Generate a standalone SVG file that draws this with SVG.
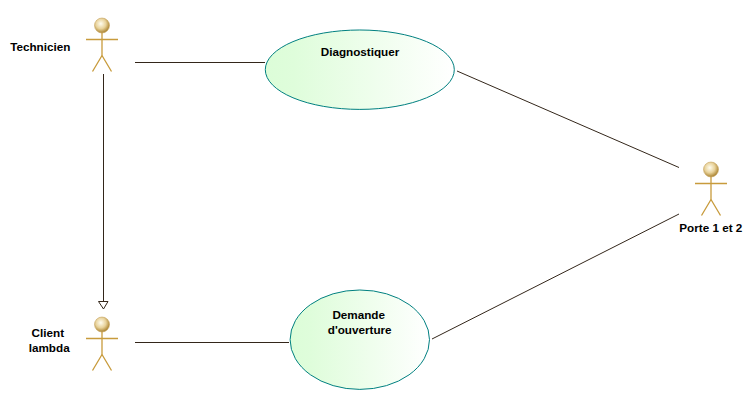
<svg xmlns="http://www.w3.org/2000/svg" width="754" height="401" viewBox="0 0 754 401">
<style>
text{font-family:"Liberation Sans",Arial,sans-serif;font-size:11.7px;font-weight:bold;fill:#000;text-anchor:middle}
.uc{stroke:#008080;stroke-width:1;fill:url(#ug)}
.a{stroke:#c89b3c;stroke-width:1.3;fill:none}
.h{fill:url(#hg);stroke:#c8a560;stroke-width:.6}
.c{stroke:#33261a;stroke-width:1;fill:none}
</style>
<defs>
<linearGradient id="ug" x1="0" y1="0" x2="1" y2="0"><stop offset="0" stop-color="#dcfdd8"/><stop offset=".15" stop-color="#dffddb"/><stop offset="1" stop-color="#ffffff"/></linearGradient>
<radialGradient id="hg" cx=".42" cy=".38" r=".62"><stop offset="0" stop-color="#fffdf0"/><stop offset=".55" stop-color="#e8d29a"/><stop offset="1" stop-color="#a9822f"/></radialGradient>
<symbol id="actor" overflow="visible"><circle class="h" cx="0" cy="0" r="7.5"/><path class="a" d="M0 7.500V30M-16 14H16M0 30L-9.500 46M0 30L9.500 46"/></symbol>
</defs>
<g id="connectors">
<path class="c" d="M135 62.500H265"/>
<path class="c" d="M457 71L679 167.500"/>
<path class="c" d="M135 342.500H289"/>
<path class="c" d="M432 339L679 214"/>
<path class="c" d="M103.500 74V301"/>
<path class="c" d="M98.500 301.500H108L103.500 309Z" fill="#fff"/>
</g>
<g id="technicien"><use href="#actor" x="102" y="25.500"/><text x="40.300" y="51">Technicien</text></g>
<g id="client"><use href="#actor" x="102" y="324.500"/><text x="47.800" y="337">Client</text><text x="49.200" y="352">lambda</text></g>
<g id="porte"><use href="#actor" x="711" y="169.500"/><text x="710.800" y="232">Porte 1 et 2</text></g>
<g id="diagnostiquer"><ellipse class="uc" cx="359.800" cy="69.700" rx="94.500" ry="39.700"/><text x="360" y="56">Diagnostiquer</text></g>
<g id="demande"><ellipse class="uc" cx="359.800" cy="339.700" rx="69.700" ry="49.700"/><text x="358.700" y="319">Demande</text><text x="359.700" y="334">d'ouverture</text></g>
</svg>
